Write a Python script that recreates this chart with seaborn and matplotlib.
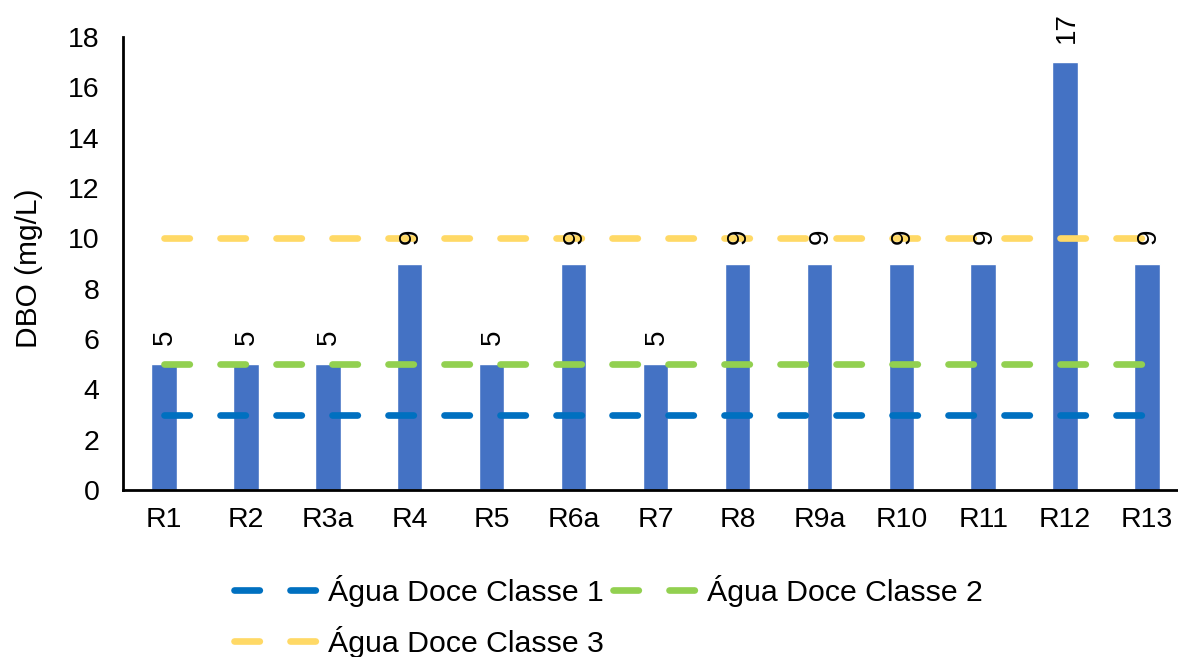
"""
DBO por ponto de coleta vs limites CONAMA (Água Doce Classes 1-3)
"""

import numpy as np
import matplotlib
matplotlib.use("Agg")
import matplotlib.pyplot as plt
import seaborn as sns


# --- dados ---
pontos = ['R1', 'R2', 'R3a', 'R4', 'R5', 'R6a', 'R7', 'R8', 'R9a', 'R10', 'R11', 'R12', 'R13']
dbo = [5, 5, 5, 9, 5, 9, 5, 9, 9, 9, 9, 17, 9]

classe1 = [3, 3, 3, 3, 3, 3, 3, 3, 3, 3, 3, 3, 3]
classe2 = [5, 5, 5, 5, 5, 5, 5, 5, 5, 5, 5, 5, 5]
classe3 = [10, 10, 10, 10, 10, 10, 10, 10, 10, 10, 10, 10, 10]

y_ticks = [0, 2, 4, 6, 8, 10, 12, 14, 16, 18]

BAR_COLOR = '#4472C4'
LINE_COLORS = ['#0070C0', '#92D050', '#FFD966']
LINE_LABELS = ['Água Doce Classe 1', 'Água Doce Classe 2', 'Água Doce Classe 3']


def main():
    sns.set_style('white')
    plt.rcParams['font.family'] = ['Liberation Sans', 'DejaVu Sans']
    plt.rcParams['text.color'] = 'black'
    plt.rcParams['axes.labelcolor'] = 'black'

    fig = plt.figure(figsize=(11.78, 6.57), dpi=100)
    # axes run a little past the right edge, like the cropped original
    ax = fig.add_axes([123 / 1178, 167 / 657, 1065 / 1178, 453 / 657])

    sns.barplot(x=pontos, y=dbo, color=BAR_COLOR, saturation=1,
                width=0.31, ax=ax)

    # limit lines, from first to last category centre
    x = np.arange(len(pontos))
    lines = []
    for vals, col, lab in zip([classe1, classe2, classe3], LINE_COLORS, LINE_LABELS):
        ln, = ax.plot(x, vals, color=col, lw=4.8, dashes=(3.8, 4.6),
                      dash_capstyle='round', label=lab, zorder=3)
        lines.append(ln)

    # data labels
    for i, v in enumerate(dbo):
        ax.annotate(str(v), (i, v), xytext=(1, 14), textcoords='offset points',
                    rotation=90, ha='center', va='bottom', fontsize=20,
                    color='black')

    ax.set_xlim(-0.5, len(pontos) - 0.5)
    ax.set_ylim(0, 18)
    ax.set_yticks(y_ticks)
    ax.set_ylabel('DBO (mg/L)', fontsize=21.5, color='black')
    ax.yaxis.set_label_coords(-0.075, 0.49)
    ax.set_xlabel('')

    ax.tick_params(axis='y', length=0, pad=17, labelsize=20.5, colors='black')
    ax.tick_params(axis='x', length=0, pad=12, labelsize=20.5, colors='black')

    for side in ['top', 'right']:
        ax.spines[side].set_visible(False)
    for side in ['left', 'bottom']:
        ax.spines[side].set_color('black')
        ax.spines[side].set_linewidth(2)
    ax.grid(False)

    # legend: row-wise order -> 1, 2 on top, 3 below
    handles = [lines[0], lines[2], lines[1]]
    labels = [LINE_LABELS[0], LINE_LABELS[2], LINE_LABELS[1]]
    leg = fig.legend(handles, labels, loc='upper left',
                     bbox_to_anchor=(234 / 1178, 1 - 575 / 657), ncol=2,
                     frameon=False, fontsize=21.8, handlelength=2.8,
                     handletextpad=0.3, columnspacing=0.3, labelspacing=0.62,
                     borderpad=0, borderaxespad=0)
    for t in leg.get_texts():
        t.set_color('black')

    fig.savefig('out.png', dpi=100)
    plt.close(fig)


if __name__ == "__main__":
    main()
